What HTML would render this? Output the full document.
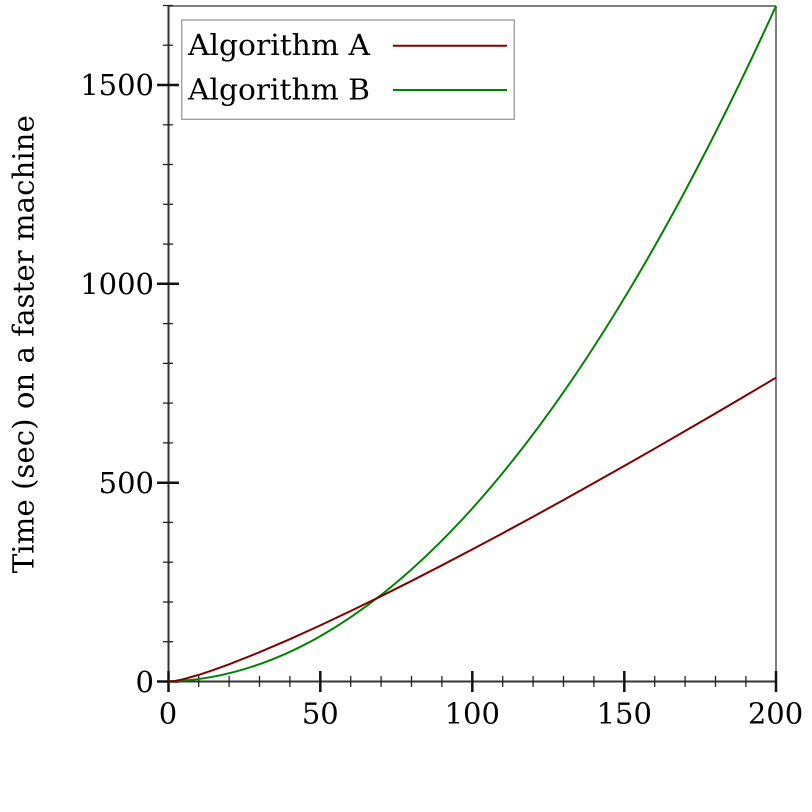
<!DOCTYPE html>
<html>
<head>
<meta charset="utf-8">
<style>
  html,body{margin:0;padding:0;background:#fff;}
  svg{display:block;}
  text{font-family:"DejaVu Serif","Liberation Serif",serif;font-size:29px;fill:#000;}
</style>
</head>
<body>
<svg width="812" height="812" viewBox="0 0 812 812" xmlns="http://www.w3.org/2000/svg">
  <rect x="0" y="0" width="812" height="812" fill="#fff"/>
  <!-- frame (top & right) -->
  <line x1="168.5" y1="6" x2="776" y2="6" stroke="#808080" stroke-width="2"/>
  <line x1="776" y1="6" x2="776" y2="681.5" stroke="#808080" stroke-width="2"/>

  <!-- axes -->
  <line x1="168.5" y1="5" x2="168.5" y2="682.5" stroke="#333" stroke-width="2"/>
  <line x1="168" y1="681.5" x2="777" y2="681.5" stroke="#333" stroke-width="2"/>

  <!-- x major ticks -->
  <g stroke="#111" stroke-width="2.5">
    <line x1="168.5" y1="671" x2="168.5" y2="692"/>
    <line x1="320.3" y1="671" x2="320.3" y2="692"/>
    <line x1="472.3" y1="671" x2="472.3" y2="692"/>
    <line x1="624.3" y1="671" x2="624.3" y2="692"/>
    <line x1="776" y1="671" x2="776" y2="692"/>
  </g>
  <!-- x minor ticks -->
  <g stroke="#222" stroke-width="1.3">
    <line x1="198.7" y1="676" x2="198.7" y2="687"/>
    <line x1="229.1" y1="676" x2="229.1" y2="687"/>
    <line x1="259.5" y1="676" x2="259.5" y2="687"/>
    <line x1="289.9" y1="676" x2="289.9" y2="687"/>
    <line x1="350.7" y1="676" x2="350.7" y2="687"/>
    <line x1="381.1" y1="676" x2="381.1" y2="687"/>
    <line x1="411.5" y1="676" x2="411.5" y2="687"/>
    <line x1="441.9" y1="676" x2="441.9" y2="687"/>
    <line x1="502.7" y1="676" x2="502.7" y2="687"/>
    <line x1="533.1" y1="676" x2="533.1" y2="687"/>
    <line x1="563.5" y1="676" x2="563.5" y2="687"/>
    <line x1="593.9" y1="676" x2="593.9" y2="687"/>
    <line x1="654.7" y1="676" x2="654.7" y2="687"/>
    <line x1="685.1" y1="676" x2="685.1" y2="687"/>
    <line x1="715.5" y1="676" x2="715.5" y2="687"/>
    <line x1="745.9" y1="676" x2="745.9" y2="687"/>
  </g>

  <!-- y major ticks -->
  <g stroke="#111" stroke-width="2.5">
    <line x1="157" y1="681.5" x2="179" y2="681.5"/>
    <line x1="157" y1="482.7" x2="179" y2="482.7"/>
    <line x1="157" y1="283.8" x2="179" y2="283.8"/>
    <line x1="157" y1="85" x2="179" y2="85"/>
  </g>
  <!-- y minor ticks -->
  <g stroke="#222" stroke-width="1.3">
    <line x1="163" y1="641.7" x2="173" y2="641.7"/>
    <line x1="163" y1="602" x2="173" y2="602"/>
    <line x1="163" y1="562.2" x2="173" y2="562.2"/>
    <line x1="163" y1="522.4" x2="173" y2="522.4"/>
    <line x1="163" y1="442.9" x2="173" y2="442.9"/>
    <line x1="163" y1="403.1" x2="173" y2="403.1"/>
    <line x1="163" y1="363.4" x2="173" y2="363.4"/>
    <line x1="163" y1="323.6" x2="173" y2="323.6"/>
    <line x1="163" y1="244.1" x2="173" y2="244.1"/>
    <line x1="163" y1="204.3" x2="173" y2="204.3"/>
    <line x1="163" y1="164.5" x2="173" y2="164.5"/>
    <line x1="163" y1="124.8" x2="173" y2="124.8"/>
    <line x1="163" y1="45.2" x2="173" y2="45.2"/>
    <line x1="163" y1="5.5" x2="173" y2="5.5"/>
  </g>

  <!-- curves -->
  <path d="M168.3,681.5 Q472.3,673.3 776,6" fill="none" stroke="#008000" stroke-width="2"/>
  <polyline fill="none" stroke="#800000" stroke-width="2"
    points="168.3,681.5 174.38,681.1 183.5,679.19 198.7,674.89 213.9,669.85 229.1,664.31 259.5,652.23 289.9,639.17 320.3,625.39 350.7,611.03 381.1,596.19 411.5,580.94 441.9,565.3 472.3,549.4 502.7,533.2 533.1,516.7 563.5,500.0 593.9,483.05 624.3,465.9 654.7,448.56 685.1,431.0 715.5,413.36 745.9,395.5 776,377.7"/>

  <!-- tick labels -->
  <g text-anchor="end">
    <text x="154" y="692">0</text>
    <text x="154" y="493">500</text>
    <text x="154" y="294">1000</text>
    <text x="154" y="95">1500</text>
  </g>
  <g text-anchor="middle">
    <text x="168" y="723.5">0</text>
    <text x="320.3" y="723.5">50</text>
    <text x="472.3" y="723.5">100</text>
    <text x="624.3" y="723.5">150</text>
    <text x="775.5" y="723.5">200</text>
  </g>

  <!-- y-axis label -->
  <text transform="translate(33.5,344.2) rotate(-90)" text-anchor="middle" textLength="458" lengthAdjust="spacingAndGlyphs">Time (sec) on a faster machine</text>

  <!-- legend -->
  <rect x="181.7" y="20" width="332.6" height="99.3" fill="#fff" stroke="#999" stroke-width="1.3"/>
  <text x="188" y="55" textLength="182" lengthAdjust="spacingAndGlyphs">Algorithm A</text>
  <text x="188" y="99.3" textLength="182" lengthAdjust="spacingAndGlyphs">Algorithm B</text>
  <line x1="393" y1="45.7" x2="507" y2="45.7" stroke="#800000" stroke-width="2"/>
  <line x1="393" y1="90" x2="507" y2="90" stroke="#008000" stroke-width="2"/>
</svg>
</body>
</html>
